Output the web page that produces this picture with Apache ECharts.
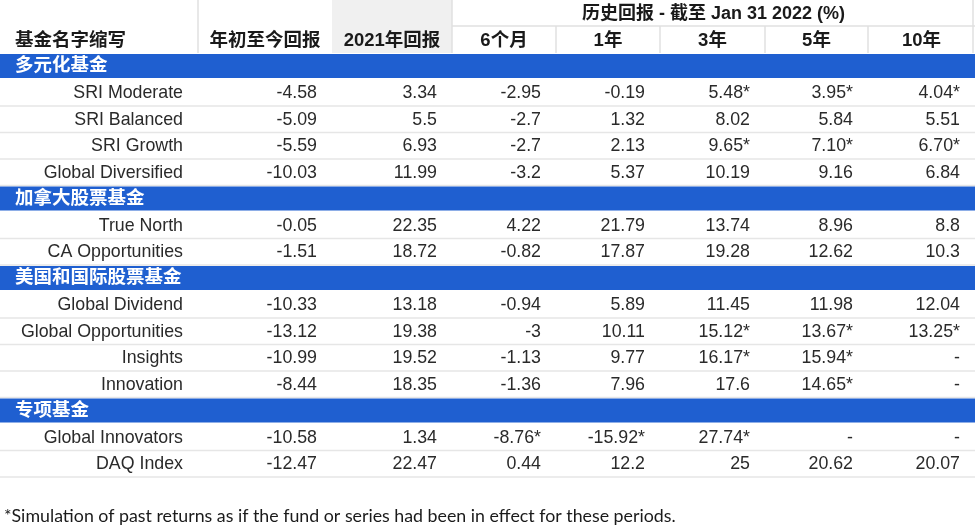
<!DOCTYPE html>
<html><head><meta charset="utf-8">
<script src="https://cdn.jsdelivr.net/npm/echarts@6/dist/echarts.min.js"></script>
<style>html,body{margin:0;padding:0;background:#fff}#c{width:975px;height:528px}</style>
</head><body><div id="c"></div>
<script>
// ---------------- data ----------------
const groups = ['多元化基金', '加拿大股票基金', '美国和国际股票基金', '专项基金'];
const funds = ['SRI Moderate', 'SRI Balanced', 'SRI Growth', 'Global Diversified',
  'True North', 'CA Opportunities',
  'Global Dividend', 'Global Opportunities', 'Insights', 'Innovation',
  'Global Innovators', 'DAQ Index'];
const fundGroup = [0, 0, 0, 0, 1, 1, 2, 2, 2, 2, 3, 3];
const nameHeader = '基金名字缩写';
const columnHeaders = ['年初至今回报', '2021年回报', '6个月', '1年', '3年', '5年', '10年'];
const periodHeader = '历史回报 - 截至 Jan 31 2022 (%)';
const ytd   = ['-4.58', '-5.09', '-5.59', '-10.03', '-0.05', '-1.51', '-10.33', '-13.12', '-10.99', '-8.44', '-10.58', '-12.47'];
const r2021 = ['3.34', '5.5', '6.93', '11.99', '22.35', '18.72', '13.18', '19.38', '19.52', '18.35', '1.34', '22.47'];
const m6    = ['-2.95', '-2.7', '-2.7', '-3.2', '4.22', '-0.82', '-0.94', '-3', '-1.13', '-1.36', '-8.76*', '0.44'];
const y1    = ['-0.19', '1.32', '2.13', '5.37', '21.79', '17.87', '5.89', '10.11', '9.77', '7.96', '-15.92*', '12.2'];
const y3    = ['5.48*', '8.02', '9.65*', '10.19', '13.74', '19.28', '11.45', '15.12*', '16.17*', '17.6', '27.74*', '25'];
const y5    = ['3.95*', '5.84', '7.10*', '9.16', '8.96', '12.62', '11.98', '13.67*', '15.94*', '14.65*', '-', '20.62'];
const y10   = ['4.04*', '5.51', '6.70*', '6.84', '8.8', '10.3', '12.04', '13.25*', '-', '-', '-', '20.07'];
const footnote = '*Simulation of past returns as if the fund or series had been in effect for these periods.';

// ---------------- layout ----------------
const W = 975;
const colEdges = [0, 198, 332, 452, 556, 660, 765, 868, 975];
const pad = 15;
const headerH = 53;
const blue = '#1f5fd0';
const textColor = '#2a2a2a';
const lineColor = '#e6e6e6';
const hdrLine = '#e0e0e0';
const latin = '"Liberation Sans", Arial, "Noto Sans CJK SC", sans-serif';
const cjk = '"Liberation Sans", "Noto Sans CJK SC", sans-serif';

const valueCols = [ytd, r2021, m6, y1, y3, y5, y10];
const rows = [];
groups.forEach((g, gi) => {
  rows.push({ type: 'band', name: g });
  funds.forEach((f, fi) => {
    if (fundGroup[fi] === gi) rows.push({ type: 'fund', name: f, vals: valueCols.map(c => c[fi]) });
  });
});
const rowLabels = rows.map(r => r.name);

const chart = echarts.init(document.getElementById('c'));

function renderRow(params, api) {
  const i = api.value(1);
  const row = rows[i];
  const p0 = api.coord([0, i]);
  const x1 = api.coord([W, i])[0];
  const h = api.size([0, 1])[1];
  const yc = p0[1];
  const children = [];
  if (row.type === 'band') {
    children.push({ type: 'rect', shape: { x: p0[0], y: yc - h / 2 + 1, width: x1 - p0[0], height: h - 2.5 },
      style: { fill: blue } });
    children.push({ type: 'text', style: { x: api.coord([15, i])[0], y: yc, text: row.name, align: 'left',
      verticalAlign: 'middle', fill: '#fff', font: 'bold 18.5px ' + cjk } });
  } else {
    children.push({ type: 'line', shape: { x1: p0[0], y1: yc + h / 2, x2: x1, y2: yc + h / 2 },
      style: { stroke: lineColor, lineWidth: 1.5 } });
    children.push({ type: 'text', style: { x: api.coord([colEdges[1] - pad, i])[0], y: yc + 0.5, text: row.name,
      align: 'right', verticalAlign: 'middle', fill: textColor, font: '17.8px ' + latin } });
    row.vals.forEach((v, k) => {
      children.push({ type: 'text', style: { x: api.coord([colEdges[k + 2] - pad, i])[0], y: yc + 0.5, text: v,
        align: 'right', verticalAlign: 'middle', fill: textColor, font: '17.8px ' + latin } });
    });
  }
  return { type: 'group', children };
}

// header graphics
const hdr = [];
hdr.push({ type: 'rect', shape: { x: colEdges[2], y: 0, width: colEdges[3] - colEdges[2], height: headerH }, style: { fill: '#f0f0f0' } });
[colEdges[1], colEdges[3], 973].forEach(x => hdr.push({ type: 'line', shape: { x1: x, y1: 0, x2: x, y2: headerH }, style: { stroke: hdrLine, lineWidth: 1.5 } }));
[colEdges[4], colEdges[5], colEdges[6], colEdges[7]].forEach(x => hdr.push({ type: 'line', shape: { x1: x, y1: 26, x2: x, y2: headerH }, style: { stroke: hdrLine, lineWidth: 1.5 } }));
hdr.push({ type: 'line', shape: { x1: colEdges[3], y1: 26, x2: W, y2: 26 }, style: { stroke: hdrLine, lineWidth: 1.5 } });
hdr.push({ type: 'text', style: { x: 15, y: 41, text: nameHeader, align: 'left', verticalAlign: 'middle', fill: '#1a1a1a', font: 'bold 18.5px ' + cjk } });
columnHeaders.forEach((t, k) => {
  hdr.push({ type: 'text', style: { x: (colEdges[k + 1] + colEdges[k + 2]) / 2, y: 41, text: t, align: 'center', verticalAlign: 'middle', fill: '#1a1a1a', font: 'bold 18.5px ' + cjk } });
});
hdr.push({ type: 'text', style: { x: (colEdges[3] + W) / 2, y: 14, text: periodHeader, align: 'center', verticalAlign: 'middle', fill: '#1a1a1a', font: 'bold 18px ' + cjk } });
hdr.push({ type: 'text', style: { x: 4, y: 516, text: footnote, align: 'left', verticalAlign: 'middle', fill: '#1a1a1a', font: '17.8px Lato, "Open Sans", sans-serif' } });

chart.setOption({
  animation: false,
  backgroundColor: '#fff',
  grid: { left: 0, right: 0, top: headerH, bottom: 51 },
  xAxis: { type: 'value', min: 0, max: W, show: false },
  yAxis: { type: 'category', data: rowLabels, inverse: true, show: false },
  graphic: { elements: hdr },
  series: [{
    type: 'custom',
    renderItem: renderRow,
    encode: { x: 0, y: 1 },
    data: rows.map((r, i) => [0, i]),
    silent: true
  }]
});
</script>
</body></html>
